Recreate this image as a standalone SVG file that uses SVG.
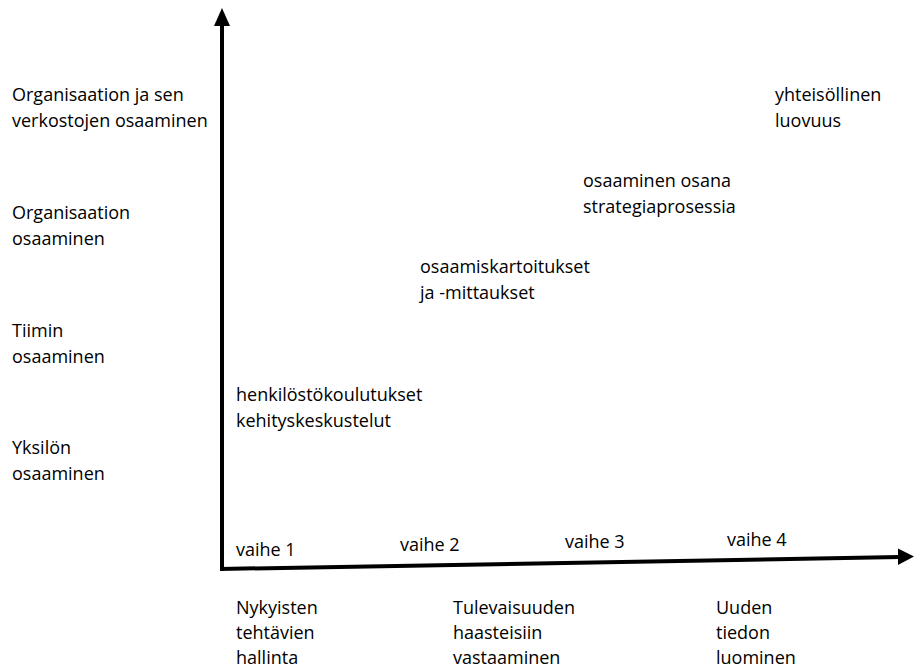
<svg xmlns="http://www.w3.org/2000/svg" width="915" height="671" viewBox="0 0 915 671">
<style>
text{font-family:"Open Sans","Liberation Sans",sans-serif;font-size:18px;fill:#000}
.ax{stroke:#000;stroke-width:4;fill:none}
</style>
<rect width="915" height="671" fill="#fff"/>
<g id="connectors">
<line class="ax" x1="222" y1="24" x2="222" y2="571"/>
<polygon points="222,8 214,26 230,26" fill="#000"/>
<line class="ax" x1="220" y1="569" x2="900" y2="557"/>
<polygon points="914,556.5 898,548.5 898,565" fill="#000"/>
</g>
<g id="y1"><text x="12" y="101">Organisaation ja sen</text><text x="12" y="127">verkostojen osaaminen</text></g>
<g id="y2"><text x="12" y="219">Organisaation</text><text x="12" y="245">osaaminen</text></g>
<g id="y3"><text x="12" y="337">Tiimin</text><text x="12" y="363">osaaminen</text></g>
<g id="y4"><text x="12" y="454">Yksilön</text><text x="12" y="480">osaaminen</text></g>
<g id="n1"><text x="236" y="401">henkilöstökoulutukset</text><text x="236" y="427">kehityskeskustelut</text></g>
<g id="n2"><text x="420" y="273">osaamiskartoitukset</text><text x="420" y="299">ja -mittaukset</text></g>
<g id="n3"><text x="583" y="187">osaaminen osana</text><text x="583" y="213">strategiaprosessia</text></g>
<g id="n4"><text x="775" y="101">yhteisöllinen</text><text x="775" y="127">luovuus</text></g>
<g id="v1"><text x="236" y="556">vaihe 1</text></g>
<g id="v2"><text x="400" y="551">vaihe 2</text></g>
<g id="v3"><text x="565" y="548">vaihe 3</text></g>
<g id="v4"><text x="727" y="546">vaihe 4</text></g>
<g id="p1"><text x="236" y="614">Nykyisten</text><text x="236" y="639">tehtävien</text><text x="236" y="664">hallinta</text></g>
<g id="p2"><text x="453" y="614">Tulevaisuuden</text><text x="453" y="639">haasteisiin</text><text x="453" y="664">vastaaminen</text></g>
<g id="p3"><text x="716" y="614">Uuden</text><text x="716" y="639">tiedon</text><text x="716" y="664">luominen</text></g>
</svg>
